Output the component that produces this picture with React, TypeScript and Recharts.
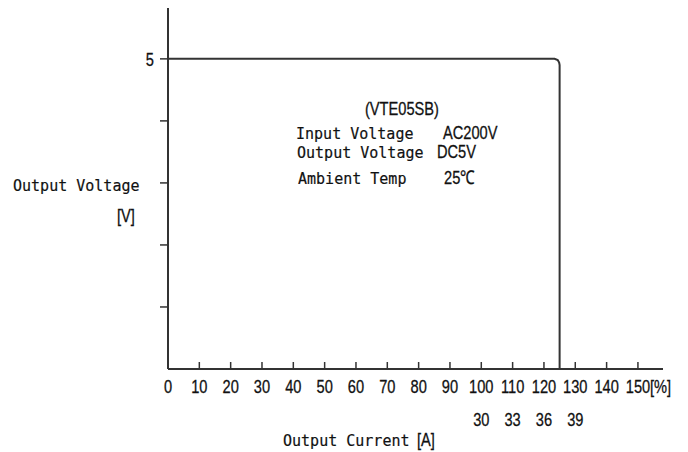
import React from 'react';
import { LineChart, Line, XAxis, YAxis } from 'recharts';

// output current [%] vs output voltage [V]
const CURRENT_PCT = [0, 123.4, 124.4, 124.85, 125, 125];
const VOLTAGE = [5, 5, 4.98, 4.94, 4.9, 0];

const X_TICKS = [0, 10, 20, 30, 40, 50, 60, 70, 80, 90, 100, 110, 120, 130, 140, 150];
const Y_TICKS = [1, 2, 3, 4, 5];
const Y_LABELED = [5];
const AMP_AT_PCT = [100, 110, 120, 130];
const AMP_LABELS = ['30', '33', '36', '39'];

const data = CURRENT_PCT.map((c, i) => ({ pct: c, v: VOLTAGE[i] }));

const INK = '#333';
const SANS = '"Liberation Sans", Arial, sans-serif';
const MONO = '"DejaVu Sans Mono", "Liberation Mono", monospace';

// narrow sans: Liberation Sans squeezed horizontally
const NText = ({ x, y, anchor = 'start', children }: any) => (
  <text
    transform={`translate(${x},${y}) scale(0.77,1)`}
    textAnchor={anchor}
    fontFamily={SANS}
    fontSize={19}
    fill="#111"
    stroke="#111"
    strokeWidth={0.3}
  >
    {children}
  </text>
);

// gothic-like mono: DejaVu Sans Mono a little condensed
const MText = ({ x, y, children }: any) => (
  <text
    transform={`translate(${x},${y}) scale(0.91,1)`}
    fontFamily={MONO}
    fontSize={16.5}
    fill="#111"
    stroke="#111"
    strokeWidth={0.2}
  >
    {children}
  </text>
);

const XTick = (props: any) => {
  const { x, y, payload } = props;
  const val = payload.value;
  const ai = AMP_AT_PCT.indexOf(val);
  return (
    <g>
      <line x1={x} x2={x} y1={y - 7} y2={y} stroke={INK} strokeWidth={1.5} />
      <NText x={x} y={y + 24} anchor="middle">{val}</NText>
      {val === 150 && <NText x={x + 12} y={y + 24}>[%]</NText>}
      {ai >= 0 && <NText x={x} y={y + 57} anchor="middle">{AMP_LABELS[ai]}</NText>}
    </g>
  );
};

const YTick = (props: any) => {
  const { x, y, payload } = props;
  return (
    <g>
      <line x1={x - 8} x2={x} y1={y} y2={y} stroke={INK} strokeWidth={1.5} />
      {Y_LABELED.includes(payload.value) && (
        <NText x={x - 14} y={y + 7} anchor="end">{payload.value}</NText>
      )}
    </g>
  );
};

export default function App() {
  return (
    <div style={{ position: 'relative', width: 688, height: 452, background: '#fff' }}>
      <style>{`body{margin:0}`}</style>
      <LineChart width={688} height={452} data={data} margin={{ top: 8, right: 25, bottom: 0, left: 0 }}>
        <XAxis
          dataKey="pct"
          type="number"
          domain={[0, 158]}
          ticks={X_TICKS}
          interval={0}
          height={83}
          tickSize={0}
          tickMargin={0}
          tickLine={false}
          axisLine={{ stroke: INK, strokeWidth: 2 }}
          tick={<XTick />}
          allowDataOverflow
        />
        <YAxis
          type="number"
          domain={[0, 5.82]}
          ticks={Y_TICKS}
          interval={0}
          width={168}
          tickSize={0}
          tickMargin={0}
          tickLine={false}
          axisLine={{ stroke: INK, strokeWidth: 2 }}
          tick={<YTick />}
          allowDataOverflow
        />
        <Line
          type="linear"
          dataKey="v"
          stroke={INK}
          strokeWidth={2}
          dot={false}
          isAnimationActive={false}
        />
      </LineChart>
      <svg width={688} height={452} style={{ position: 'absolute', left: 0, top: 0, pointerEvents: 'none' }}>
        <MText x={13} y={191}>Output Voltage</MText>
        <NText x={117} y={222}>[V]</NText>
        <MText x={283} y={446}>Output Current</MText>
        <NText x={417} y={446}>[A]</NText>

        <NText x={365} y={115}>(VTE05SB)</NText>
        <MText x={296} y={139}>Input Voltage</MText>
        <NText x={443} y={139}>AC200V</NText>
        <MText x={297} y={158}>Output Voltage</MText>
        <NText x={437} y={158}>DC5V</NText>
        <MText x={298} y={184}>Ambient Temp</MText>
        <NText x={444} y={184}>25℃</NText>
      </svg>
    </div>
  );
}
